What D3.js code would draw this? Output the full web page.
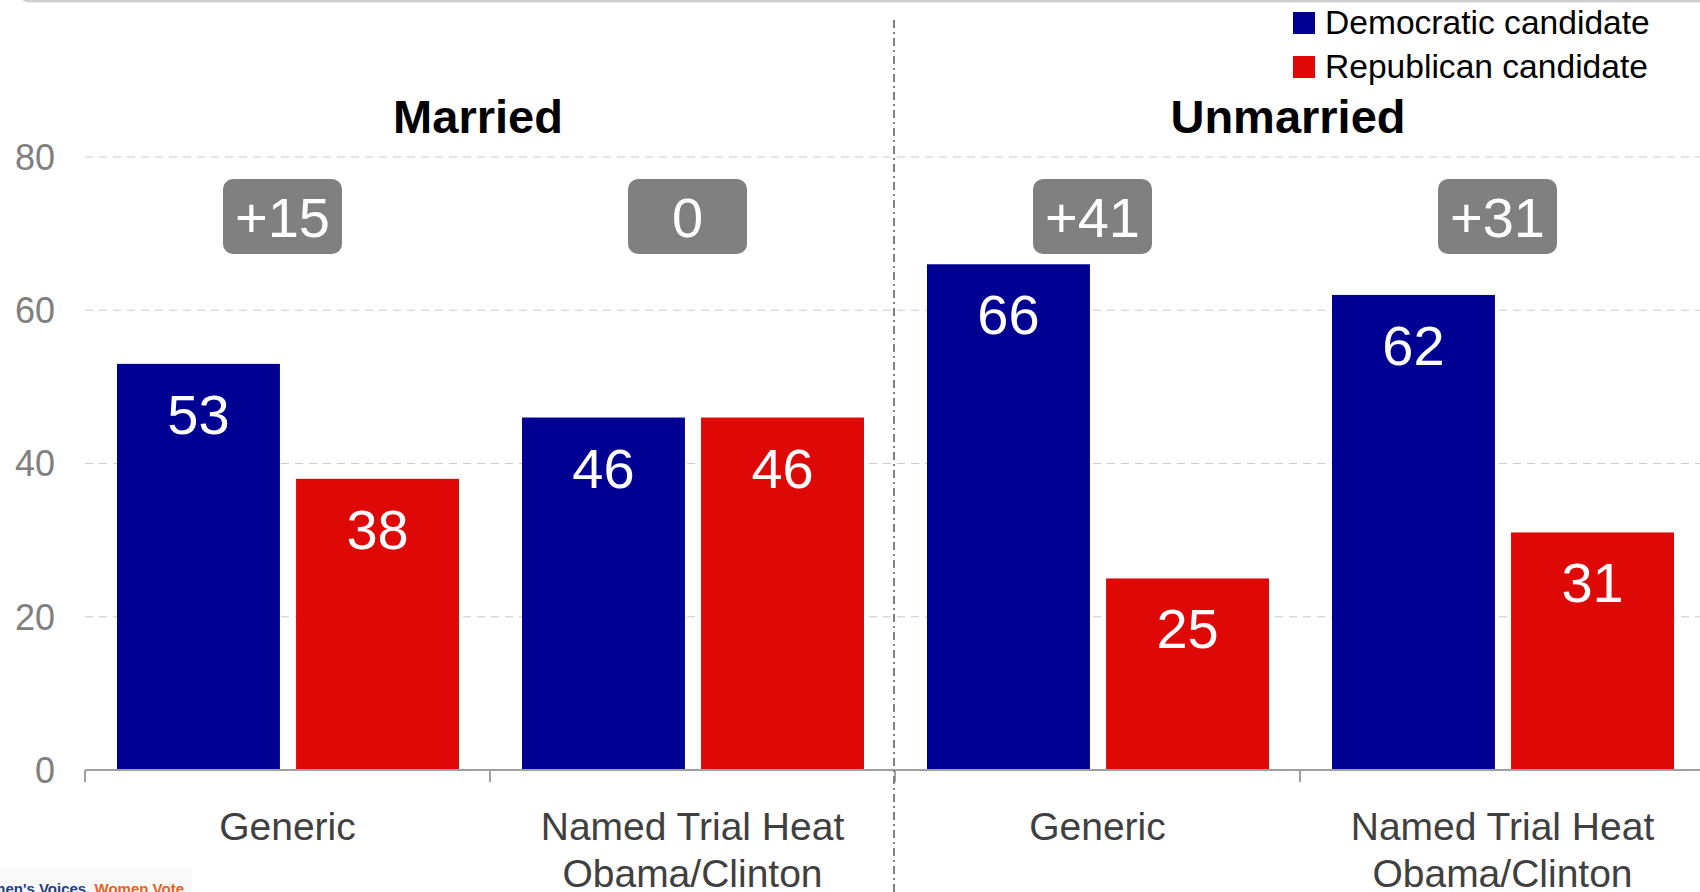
<!DOCTYPE html>
<html>
<head>
<meta charset="utf-8">
<script src="https://cdn.jsdelivr.net/npm/d3@7"></script>
<style>
  html, body { margin: 0; padding: 0; background: #fff; overflow: hidden; }
  text { font-family: "Liberation Sans", Arial, sans-serif; }
</style>
</head>
<body>
<script>
var width = 1700,
    height = 892;

// data
var categories = ["Married|Generic", "Married|Named Trial Heat", "Unmarried|Generic", "Unmarried|Named Trial Heat"];
var catLabels = [["Generic"], ["Named Trial Heat", "Obama/Clinton"], ["Generic"], ["Named Trial Heat", "Obama/Clinton"]];
var groups = ["Married", "Unmarried"];
var series = ["Democratic candidate", "Republican candidate"];
var demValues = [53, 46, 66, 62];
var repValues = [38, 46, 25, 31];
var margins = ["+15", "0", "+41", "+31"];
var yTicks = [0, 20, 40, 60, 80];

var colors = { "Democratic candidate": "#000093", "Republican candidate": "#DE0806" };

var svg = d3.select("body").append("svg")
    .attr("width", width)
    .attr("height", height);

var y = d3.scaleLinear().domain([0, 80]).range([770, 157]);

var x0 = d3.scaleBand()
    .domain(categories)
    .range([85, 1705]);

var x1 = d3.scaleBand()
    .domain(series)
    .range([32, 374])
    .paddingInner(0.09);

// top frame edge
svg.append("path")
    .attr("d", "M20,-10 Q20,1 31,1 L1700,1")
    .attr("fill", "none")
    .attr("stroke", "#cfcfcf")
    .attr("stroke-width", 3);

// gridlines
svg.append("g").selectAll("line")
  .data(yTicks.filter(function(d) { return d > 0; }))
  .enter().append("line")
    .attr("x1", 85).attr("x2", width)
    .attr("y1", function(d) { return y(d); })
    .attr("y2", function(d) { return y(d); })
    .attr("stroke", "#cccccc")
    .attr("stroke-width", 1)
    .attr("stroke-dasharray", "8,6");

// y axis labels
svg.append("g").selectAll("text")
  .data(yTicks)
  .enter().append("text")
    .attr("x", 55)
    .attr("y", function(d) { return y(d); })
    .attr("dy", "0.36em")
    .attr("text-anchor", "end")
    .attr("fill", "#808080")
    .style("font-size", "36px")
    .text(function(d) { return d; });

// bars
var rows = categories.map(function(c, i) {
  return { cat: c, values: [
    { s: series[0], v: demValues[i] },
    { s: series[1], v: repValues[i] }
  ] };
});

var cat = svg.append("g").selectAll("g")
  .data(rows)
  .enter().append("g")
    .attr("transform", function(d) { return "translate(" + x0(d.cat) + ",0)"; });

cat.selectAll("rect")
  .data(function(d) { return d.values; })
  .enter().append("rect")
    .attr("x", function(d) { return x1(d.s); })
    .attr("y", function(d) { return y(d.v); })
    .attr("width", x1.bandwidth())
    .attr("height", function(d) { return y(0) - y(d.v); })
    .attr("fill", function(d) { return colors[d.s]; });

cat.selectAll("text.val")
  .data(function(d) { return d.values; })
  .enter().append("text")
    .attr("class", "val")
    .attr("x", function(d) { return x1(d.s) + x1.bandwidth() / 2; })
    .attr("y", function(d) { return y(d.v) + 70; })
    .attr("text-anchor", "middle")
    .attr("fill", "#fff")
    .style("font-size", "56px")
    .text(function(d) { return d.v; });

// margin boxes
var boxW = 119, boxH = 75, boxTop = 179;
cat.append("rect")
    .attr("x", x0.bandwidth() / 2 - 5 - boxW / 2)
    .attr("y", boxTop)
    .attr("width", boxW)
    .attr("height", boxH)
    .attr("rx", 10)
    .attr("fill", "#808080");

cat.append("text")
    .attr("x", x0.bandwidth() / 2 - 5)
    .attr("y", boxTop + 58)
    .attr("text-anchor", "middle")
    .attr("fill", "#fff")
    .style("font-size", "56px")
    .text(function(d, i) { return margins[i]; });

// x axis
svg.append("line")
    .attr("x1", 85).attr("x2", width)
    .attr("y1", 770).attr("y2", 770)
    .attr("stroke", "#a0a0a0")
    .attr("stroke-width", 2);

svg.append("g").selectAll("line")
  .data(categories)
  .enter().append("line")
    .attr("x1", function(d) { return x0(d); })
    .attr("x2", function(d) { return x0(d); })
    .attr("y1", 770).attr("y2", 782)
    .attr("stroke", "#a0a0a0")
    .attr("stroke-width", 2);

// category labels
var lab = svg.append("g").selectAll("text")
  .data(categories)
  .enter().append("text")
    .attr("text-anchor", "middle")
    .attr("fill", "#404040")
    .style("font-size", "39px");

lab.selectAll("tspan")
  .data(function(d, i) { return catLabels[i]; })
  .enter().append("tspan")
    .attr("x", function() { var c = d3.select(this.parentNode).datum(); return x0(c) + x0.bandwidth() / 2; })
    .attr("y", function(d, j) { return 840 + j * 47; })
    .text(function(d) { return d; });

// divider between groups
svg.append("line")
    .attr("x1", x0(categories[2]) - 1).attr("x2", x0(categories[2]) - 1)
    .attr("y1", 20).attr("y2", height)
    .attr("stroke", "#808080")
    .attr("stroke-width", 2)
    .attr("stroke-dasharray", "8,4,2,4");

// group titles
svg.append("g").selectAll("text")
  .data(groups)
  .enter().append("text")
    .attr("x", function(d, i) { return x0(categories[i * 2]) + x0.bandwidth() - 12; })
    .attr("y", 133)
    .attr("text-anchor", "middle")
    .attr("fill", "#000")
    .style("font-size", "47px")
    .style("font-weight", "bold")
    .text(function(d) { return d; });

// legend
var legend = svg.append("g").selectAll("g")
  .data(series)
  .enter().append("g")
    .attr("transform", function(d, i) { return "translate(1293," + (12 + i * 44) + ")"; });

legend.append("rect")
    .attr("width", 22).attr("height", 22)
    .attr("fill", function(d) { return colors[d]; });

legend.append("text")
    .attr("x", 32)
    .attr("y", 22)
    .attr("fill", "#000")
    .style("font-size", "33.6px")
    .text(function(d) { return d; });

// logo fragment, bottom left
svg.append("rect")
    .attr("x", 0).attr("y", 868)
    .attr("width", 192).attr("height", 24)
    .attr("fill", "#f9f9f9");

var logo = svg.append("text")
    .attr("x", -31)
    .attr("y", 894)
    .style("font-size", "15px")
    .style("font-weight", "bold");
logo.append("tspan").attr("fill", "#1f3c88").text("Women's Voices. ");
logo.append("tspan").attr("fill", "#e8601c").text("Women Vote");
</script>
</body>
</html>
